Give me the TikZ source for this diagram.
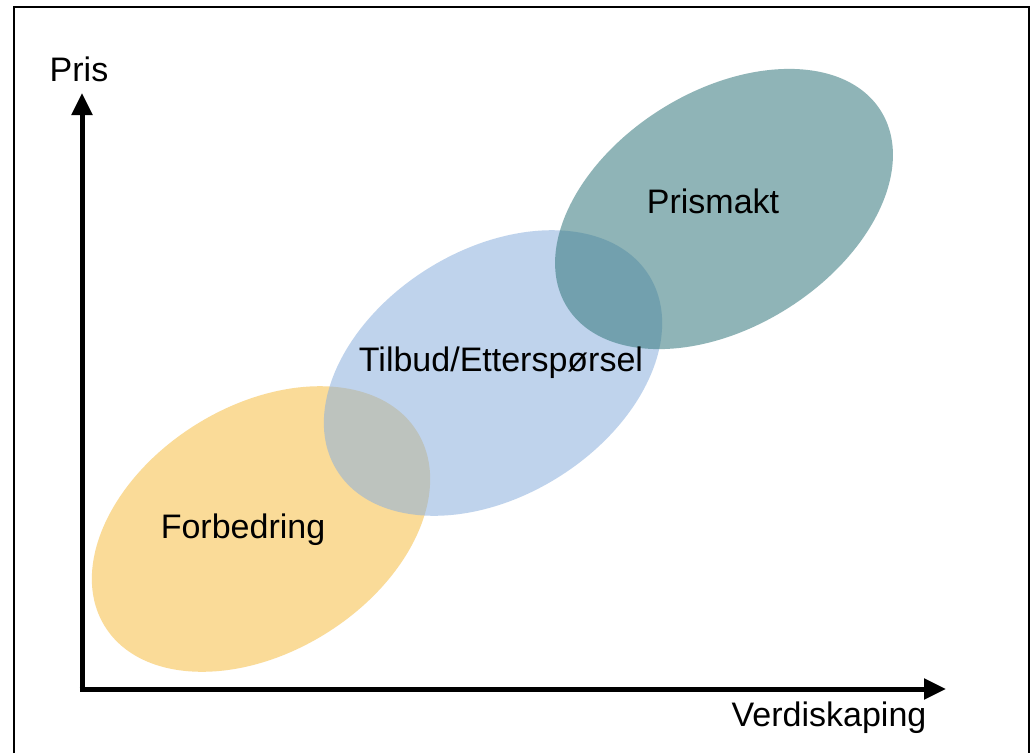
\documentclass[tikz,border=0pt]{standalone}
\usepackage{fontspec}
\setmainfont{Liberation Sans}
\usetikzlibrary{arrows.meta,calc}
\definecolor{yel}{RGB}{246,190,68}
\definecolor{blu}{RGB}{140,176,222}
\definecolor{tea}{RGB}{51,119,124}
\tikzset{
  blob/.style={fill opacity=0.55, draw=none},
  lbl/.style={font=\fontsize{34}{40}\selectfont, text=black, inner sep=0pt},
  axis/.style={line width=5pt, line join=miter, -{Triangle[width=20pt,length=22pt]}},
}
\begin{document}
\begin{tikzpicture}[x=1pt,y=1pt]
\useasboundingbox (0,0) rectangle (1032,-753);
\fill[white] (0,0) rectangle (1032,-753);
% frame
\draw[line width=2pt] (14,-753) -- (14,-6.5) -- (1029,-6.5) -- (1029,-753);
% ellipses
\fill[blob, fill=yel, rotate around={32:(261,-529)}] (261,-529) ellipse [x radius=184, y radius=123];
\fill[blob, fill=blu, rotate around={32:(493,-373)}] (493,-373) ellipse [x radius=184, y radius=123];
\fill[blob, fill=tea, rotate around={32:(724,-209)}] (724,-209) ellipse [x radius=185, y radius=118];
% axes
\coordinate (origin) at (82,-689);
\coordinate (ytip) at (82,-93);
\coordinate (xtip) at (946,-689);
\draw[axis] ($(origin)+(0,-2.5)$) -- (ytip);
\draw[axis] ($(origin)+(-2.5,0)$) -- (xtip);
% labels
\node[lbl] (pris) at (79,-69) {Pris};
\node[lbl] (verdi) at (829,-718) {Verdiskaping};
\node[lbl] (forb) at (243,-530) {Forbedring};
\node[lbl] (tilb) at (501,-363) {Tilbud/Etterspørsel};
\node[lbl] (prism) at (713,-201) {Prismakt};
\end{tikzpicture}
\end{document}
